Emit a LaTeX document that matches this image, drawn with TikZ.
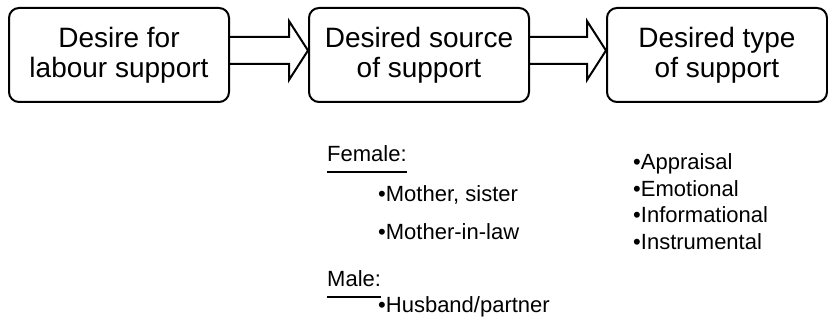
\documentclass[tikz,border=0pt]{standalone}
\usepackage{fontspec}
\setmainfont{Liberation Sans}
\usepackage{tikz}
\usetikzlibrary{calc}
\newcommand{\ulhead}[1]{\setbox0\hbox{#1}\rlap{\rule[-11pt]{\wd0}{2pt}}\box0}

\begin{document}
\begin{tikzpicture}[x=1pt, y=1pt,
  stagebox/.style={draw, line width=2pt, rounded corners=10pt, align=center, minimum width=220pt, minimum height=94pt, inner sep=0pt, font=\fontsize{28}{30}\selectfont},
  listitem/.style={anchor=base west, inner sep=0pt, font=\fontsize{22}{25}\selectfont},
  fatarrow/.style={draw, line width=2pt, line join=miter}]
  \useasboundingbox (0,0) rectangle (828,320);

  % Stages
  \node[stagebox] (des) at (119,265) {Desire for\\labour support};
  \node[stagebox] (src) at (419,265) {Desired source\\of support};
  \node[stagebox] (typ) at (717,265) {Desired type\\of support};

  % Block arrows
  \foreach \a/\b in {des/src, src/typ}
    \draw[fatarrow] ($(\a.east)+(0,18)$) -- ($(\b.west)+(-19,18)$) -- ($(\b.west)+(-19,34)$)
      -- ($(\b.west)+(0,4.5)$) -- ($(\b.west)+(-19,-25)$) -- ($(\b.west)+(-19,-9)$) -- ($(\a.east)+(0,-9)$);

  % Sources
  \node[listitem] (female) at (327,158) {\ulhead{Female:}};
  \node[listitem] (mother) at (378,118) {•Mother, sister};
  \node[listitem] (inlaw) at (378,80) {•Mother-in-law};
  \node[listitem] (male) at (327,33) {\ulhead{Male:}};
  \node[listitem] (husband) at (378,7) {•Husband/partner};

  % Types
  \foreach \t [count=\i] in {Appraisal, Emotional, Informational, Instrumental}
    \node[listitem] (type\i) at (633,{176.5-26.5*\i}) {•\t};
\end{tikzpicture}
\end{document}
